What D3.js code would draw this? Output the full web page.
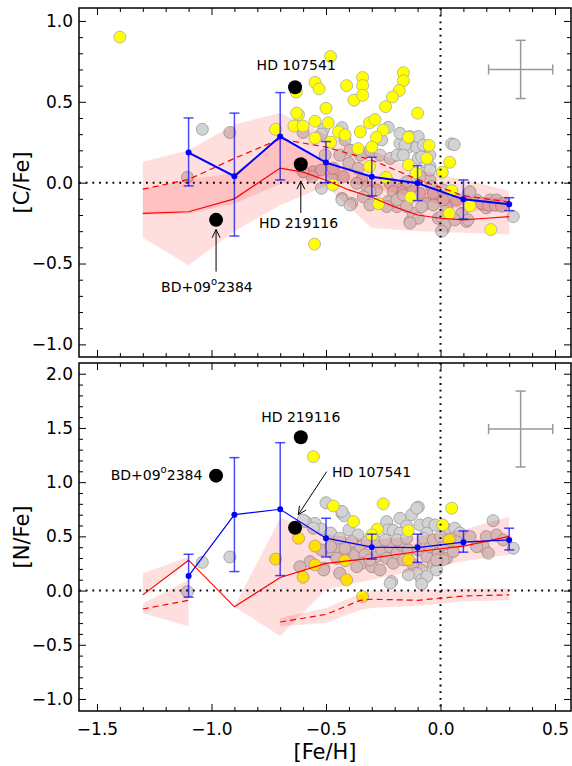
<!DOCTYPE html>
<html>
<head>
<meta charset="utf-8">
<script src="https://cdn.jsdelivr.net/npm/d3@7"></script>
<style>
body { margin: 0; background: #fff; }
svg text { font-family: "DejaVu Sans", sans-serif; fill: #000; }
</style>
</head>
<body>
<svg id="chart" width="572" height="766"></svg>
<script>
// model grid in [Fe/H]
const fehGrid = [-1.3, -1.1, -0.9, -0.7, -0.5, -0.3, -0.1, 0.1, 0.3];

// [C/Fe] models (solid and dashed) with their shaded ranges
const cfeSolidX = [-1.3, -1.1, -0.9, -0.7, -0.6, -0.5, -0.4, -0.3, -0.2, -0.1, 0.0, 0.1, 0.2, 0.3];
const cfeSolid  = [-0.19, -0.18, -0.10, 0.09, 0.065, 0.015, -0.045, -0.09, -0.15, -0.20, -0.22, -0.23, -0.22, -0.21];
const cfeDashed = [-0.04, 0.02, 0.15, 0.27, 0.22, 0.14, 0.02, -0.08, -0.12];
const cfeSolidLo  = [-0.34, -0.51, -0.30, -0.14, -0.02, -0.28, -0.30, -0.31, -0.32];
const cfeSolidHi  = [-0.04, 0.02, 0.06, 0.27, 0.12, 0.04, -0.02, -0.09, -0.09];
const cfeDashedLo = [-0.20, -0.19, -0.13, -0.01, 0.03, -0.03, -0.10, -0.17, -0.18];
const cfeDashedHi = [0.13, 0.20, 0.36, 0.43, 0.30, 0.20, 0.08, 0.02, -0.05];

// [N/Fe] models (null = gap)
const nfeSolid = [-0.04, 0.28, -0.15, 0.12, 0.25, 0.30, 0.36, 0.41, 0.50];
const nfeBandX   = [-1.3, -1.1, -1.0, -0.9, -0.7, -0.5, -0.3, -0.1, 0.1, 0.3];
const nfeSolidLo = [-0.04, 0.27, null, -0.15, -0.42, 0.01, 0.10, 0.19, 0.27, 0.33];
const nfeSolidHi = [0.16, 0.31, null, -0.15, 0.67, 0.52, 0.47, 0.50, 0.56, 0.68];
const nfeDashedX  = [-1.3, -1.1, -0.9, -0.7, -0.5, -0.35, -0.3, -0.1, 0.1, 0.3];
const nfeDashed   = [-0.17, -0.09, null, -0.29, -0.22, -0.09, -0.08, -0.09, -0.05, -0.04];
const nfeDashedLo = [-0.21, -0.33, null, -0.33, -0.30, -0.18, -0.16, -0.14, -0.10, -0.09];
const nfeDashedHi = [-0.12, 0.10, null, -0.25, -0.16, -0.03, 0.00, 0.00, 0.02, 0.02];

// binned means with dispersion
const binFeh  = [-1.1, -0.9, -0.7, -0.5, -0.3, -0.1, 0.1, 0.3];
const cfeMean = [0.186, 0.04, 0.285, 0.124, 0.037, -0.004, -0.103, -0.134];
const cfeHi   = [0.40, 0.43, 0.557, 0.254, 0.157, 0.105, 0.017, -0.093];
const cfeLo   = [-0.02, -0.33, 0.017, 0.0, -0.082, -0.111, -0.225, -0.173];
const nfeMean = [0.135, 0.70, 0.75, 0.483, 0.40, 0.396, 0.446, 0.467];
const nfeHi   = [0.335, 1.226, 1.364, 0.667, 0.52, 0.52, 0.55, 0.575];
const nfeLo   = [-0.06, 0.175, 0.138, 0.31, 0.29, 0.26, 0.354, 0.375];

// labelled stars
const starNames = ["BD+09", "HD 219116", "HD 107541"];
const starFeh = [-0.98, -0.61, -0.635];
const starCfe = [-0.23, 0.114, 0.59];
const starNfe = [1.06, 1.414, 0.58];

// typical error bars
const errFeh = 0.35, errFehSize = 0.14;
const errCfe = 0.70, errCfeSize = 0.18;
const errNfe = 1.49, errNfeSize = 0.35;

// comparison samples [Fe/H, X/Fe]
const cfeYellow = [[-1.40,0.90],[-0.72,0.33],[-0.48,0.78],[-0.548,0.62],[-0.53,0.58],[-0.41,0.60],[-0.34,0.65],[-0.34,0.60],
  [-0.378,0.51],[-0.34,0.54],[-0.162,0.68],[-0.162,0.63],[-0.18,0.57],[-0.21,0.53],[-0.24,0.47],[-0.10,0.43],[-0.50,0.46],
  [-0.62,0.42],[-0.64,0.35],[-0.60,0.35],[-0.548,0.38],[-0.49,0.37],[-0.446,0.315],[-0.417,0.295],[-0.35,0.315],[-0.31,0.37],
  [-0.286,0.39],[-0.25,0.326],[-0.28,0.28],[-0.548,0.275],[-0.36,0.21],[-0.30,0.22],[-0.14,0.28],[-0.05,0.23],[-0.06,0.15],
  [-0.14,0.11],[-0.107,0.06],[0.04,0.126],[0.008,0.064],[-0.48,0.25],[-0.31,0.10],[-0.238,0.033],[-0.47,-0.014],[-0.13,-0.09],
  [-0.27,-0.13],[0.049,-0.05],[0.038,-0.19],[0.129,-0.144],[0.22,-0.29],[-0.55,-0.38],[-0.63,0.56],[-0.628,0.43]];
const cfeGray = [[-1.04,0.33],[-0.92,0.31],[-1.105,0.033],[-0.43,0.34],[-0.51,0.33],[-0.417,0.264],[-0.228,0.342],[-0.257,0.264],
  [-0.177,0.244],[-0.14,0.22],[-0.177,0.305],[-0.104,0.22],[-0.097,0.15],[-0.555,0.068],[-0.52,0.078],[-0.504,0.171],[-0.44,0.17],
  [-0.395,0.20],[-0.35,0.17],[-0.308,0.20],[-0.264,0.17],[-0.22,0.15],[-0.19,0.17],[-0.40,0.12],[-0.36,0.089],[-0.424,0.037],
  [-0.344,0.017],[-0.32,-0.025],[-0.279,-0.045],[-0.22,-0.004],[-0.206,-0.056],[-0.162,-0.025],[-0.177,-0.087],[-0.228,-0.117],
  [-0.19,-0.148],[-0.308,-0.056],[-0.43,-0.097],[-0.388,-0.128],[-0.52,-0.035],[-0.56,0.037],[-0.60,0.068],[-0.475,0.027],
  [-0.468,0.089],[-0.133,-0.24],[-0.119,-0.19],[-0.133,0.285],[0.049,0.24],[0.06,0.235],[0.318,-0.21],[0.012,-0.29],[-0.097,-0.22],
  [-0.133,-0.25],[0.12,-0.07],[0.114,-0.24],[0,-0.097],[0.027,-0.148],[-0.01,-0.22],[0.158,-0.107],[0.187,-0.138],[0.216,-0.107],
  [0.245,-0.107],[0.274,-0.128],[0.2,-0.156],[0.07,-0.107],[0.093,-0.19],[-0.06,0.22],[-0.082,0.16],[-0.046,0.1],[-0.075,0.058],
  [-0.046,0.017],[-0.038,-0.025],[-0.09,-0.066],[-0.06,-0.128],[-0.162,-0.056],[-0.126,-0.025],[-0.19,-0.107],[-0.43,-0.107],
  [-0.395,-0.138],[-0.366,-0.004],[-0.337,-0.087],[-0.235,-0.148],[-0.308,-0.138],[-0.097,0.285],[-0.155,0.233],[-0.075,0.233],
  [-0.162,0.17],[-0.046,0.17],[-0.046,0.078],[-0.09,0.037],[-0.148,0.006],[-0.031,-0.066],[0.012,-0.045],[0.012,-0.107],
  [-0.031,-0.138],[-0.082,-0.148],[-0.148,-0.148],[0.005,-0.21],[0.02,-0.26],[0.005,-0.30],[0.063,-0.23],[0.12,-0.23],[0.129,-0.056],
  [0.18,-0.128],[0.21,-0.14],[0.24,-0.14],[0.267,-0.145],[-0.162,-0.076],[-0.60,0.31],[-0.52,0.30]];
const nfeYellow = [[-0.555,1.235],[-0.468,0.78],[-0.38,0.636],[-0.25,0.80],[0.049,0.76],[-0.276,0.566],[-0.30,0.513],[-0.14,0.553],
  [0.01,0.605],[0.038,0.467],[-0.62,0.483],[-0.548,0.41],[-0.417,0.276],[-0.548,0.237],[-0.60,0.123],[-0.41,0.099],[-0.14,0.283],
  [-0.34,-0.055],[-0.72,0.29]];
const nfeGray = [[-1.04,0.26],[-0.92,0.31],[-1.105,-0.01],[-0.50,0.81],[-0.43,0.71],[-0.42,0.69],[-0.548,0.62],[-0.52,0.566],
  [-0.59,0.636],[-0.48,0.53],[-0.40,0.56],[-0.36,0.513],[-0.44,0.483],[-0.235,0.636],[-0.228,0.56],[-0.206,0.555],[-0.177,0.667],
  [-0.126,0.70],[-0.097,0.77],[-0.148,0.596],[-0.09,0.605],[-0.053,0.62],[-0.024,0.605],[0.027,0.566],[0.063,0.575],[0.085,0.53],
  [-0.06,0.53],[-0.177,0.53],[0.23,0.645],[0.2,0.498],[0.245,0.513],[0.274,0.467],[0.318,0.39],[0.187,0.405],[0.209,0.345],
  [0.158,0.405],[0.129,0.498],[-0.52,0.375],[-0.468,0.345],[-0.44,0.375],[-0.424,0.313],[-0.395,0.375],[-0.373,0.33],[-0.35,0.405],
  [-0.33,0.33],[-0.344,0.252],[-0.30,0.22],[-0.279,0.313],[-0.257,0.375],[-0.235,0.298],[-0.22,0.405],[-0.206,0.252],[-0.19,0.345],
  [-0.17,0.42],[-0.162,0.283],[-0.14,0.375],[-0.119,0.237],[-0.097,0.375],[-0.082,0.19],[-0.06,0.313],[-0.046,0.405],[-0.031,0.237],
  [-0.01,0.345],[0.012,0.42],[0.027,0.298],[0.056,0.36],[0.07,0.45],[-0.017,0.19],[-0.104,0.16],[-0.082,0.099],[-0.14,0.145],
  [-0.06,0.13],[-0.213,0.083],[-0.30,0.498],[-0.32,0.45],[-0.279,0.45],[-0.388,0.45],[-0.417,0.39],[-0.453,0.298],[-0.51,0.206],
  [-0.44,0.16],[-0.57,0.267],[-0.614,0.22],[-0.48,0.405],[-0.242,0.467],[-0.19,0.467],[-0.148,0.483],[-0.075,0.483],[-0.031,0.467],
  [0,0.498],[0.012,0.283],[-0.017,0.283],[-0.366,0.22],[-0.264,0.19],[-0.308,0.283],[-0.22,0.068],[-0.082,0.059],[-0.43,0.73],
  [-0.104,0.76],[-0.60,0.65],[-0.555,0.575],[-0.51,0.19]];

const svg = d3.select("#chart");
const x0 = 79, x1 = 571;
const x = d3.scaleLinear().domain([-1.5786, 0.5699]).range([x0, x1]);
const xMajor = [-1.5, -1.0, -0.5, 0.0, 0.5];
const xMinor = d3.range(-15, 6).filter(i => i % 5 != 0).map(i => i / 10);
const fmt = d3.format(".1f");

const zip = (xs, ys) => xs.map((v, i) => ({x: v, y: ys[i]}));
const zipBand = (xs, lo, hi) => xs.map((v, i) => ({x: v, lo: lo[i], hi: hi[i]}));

function makePanel(top, bottom, domain, yMin, yMax, label) {
    const y = d3.scaleLinear().domain(domain).range([bottom, top]);
    const g = svg.append("g");
    g.y = y; g.top = top; g.bottom = bottom; g.label = label;
    g.yMajor = d3.range(yMin * 2, yMax * 2 + 1).map(i => i / 2);
    g.yMinor = d3.range(yMin * 10, yMax * 10 + 1).filter(i => i % 5 != 0).map(i => i / 10);
    return g;
}

function drawAxes(p, showX) {
    const y = p.y;
    const ax = (gen, tx, ty) => {
        const a = p.append("g").attr("transform", `translate(${tx},${ty})`).call(gen);
        a.select(".domain").remove();
        a.selectAll("line").attr("stroke", "#000");
        a.selectAll("text").attr("font-size", 17).attr("fill", "#000");
        return a;
    };
    ax(d3.axisLeft(y).tickValues(p.yMajor).tickSize(-7).tickPadding(6).tickFormat(fmt), x0, 0);
    ax(d3.axisLeft(y).tickValues(p.yMinor).tickSize(-4).tickFormat(""), x0, 0);
    ax(d3.axisRight(y).tickValues(p.yMajor).tickSize(-7).tickFormat(""), x1, 0);
    ax(d3.axisRight(y).tickValues(p.yMinor).tickSize(-4).tickFormat(""), x1, 0);
    ax(d3.axisTop(x).tickValues(xMajor).tickSize(-7).tickFormat(""), 0, p.top);
    ax(d3.axisTop(x).tickValues(xMinor).tickSize(-4).tickFormat(""), 0, p.top);
    ax(d3.axisBottom(x).tickValues(xMajor).tickSize(-7).tickPadding(12).tickFormat(showX ? fmt : ""), 0, p.bottom);
    ax(d3.axisBottom(x).tickValues(xMinor).tickSize(-4).tickFormat(""), 0, p.bottom);

    p.append("rect").attr("x", x0).attr("y", p.top)
        .attr("width", x1 - x0).attr("height", p.bottom - p.top)
        .attr("fill", "none").attr("stroke", "#000").attr("stroke-width", 1.5);

    p.append("text")
        .attr("transform", `translate(22,${(p.top + p.bottom) / 2}) rotate(-90)`)
        .attr("text-anchor", "middle").attr("dominant-baseline", "central")
        .attr("font-size", 21).text(p.label);
}

function drawPoints(p, pts, fill, stroke) {
    p.append("g").selectAll("circle").data(pts).join("circle")
        .attr("cx", d => x(d[0])).attr("cy", d => p.y(d[1])).attr("r", 6)
        .attr("fill", fill).attr("stroke", stroke).attr("stroke-width", 0.8);
}

function drawBand(p, data) {
    const area = d3.area().defined(d => d.lo != null)
        .x(d => x(d.x)).y0(d => p.y(d.lo)).y1(d => p.y(d.hi));
    p.append("path").datum(data).attr("d", area)
        .attr("fill", "red").attr("fill-opacity", 0.13);
}

function drawLine(p, data, dash) {
    const line = d3.line().defined(d => d.y != null).x(d => x(d.x)).y(d => p.y(d.y));
    p.append("path").datum(data).attr("d", line)
        .attr("fill", "none").attr("stroke", "red").attr("stroke-width", 1.2)
        .attr("stroke-dasharray", dash ? "6,4" : null);
}

function drawZero(p) {
    p.append("line").attr("x1", x0).attr("x2", x1).attr("y1", p.y(0)).attr("y2", p.y(0))
        .attr("stroke", "#000").attr("stroke-width", 2).attr("stroke-dasharray", "1.8,4.9");
    p.append("line").attr("x1", x(0)).attr("x2", x(0)).attr("y1", p.top).attr("y2", p.bottom)
        .attr("stroke", "#000").attr("stroke-width", 2).attr("stroke-dasharray", "1.8,4.9");
}

function drawMeans(p, mean, lo, hi, lw) {
    const g = p.append("g");
    binFeh.forEach((f, i) => {
        const cx = x(f);
        g.append("line").attr("x1", cx).attr("x2", cx).attr("y1", p.y(lo[i])).attr("y2", p.y(hi[i]));
        g.append("line").attr("x1", cx - 5).attr("x2", cx + 5).attr("y1", p.y(lo[i])).attr("y2", p.y(lo[i]));
        g.append("line").attr("x1", cx - 5).attr("x2", cx + 5).attr("y1", p.y(hi[i])).attr("y2", p.y(hi[i]));
    });
    g.attr("stroke", "blue").attr("stroke-width", 1.5).attr("stroke-opacity", 0.7);
    p.append("path").datum(zip(binFeh, mean))
        .attr("d", d3.line().x(d => x(d.x)).y(d => p.y(d.y)))
        .attr("fill", "none").attr("stroke", "blue").attr("stroke-width", lw);
    p.append("g").selectAll("circle").data(zip(binFeh, mean)).join("circle")
        .attr("cx", d => x(d.x)).attr("cy", d => p.y(d.y)).attr("r", 3).attr("fill", "blue");
}

function drawStars(p, vals) {
    p.append("g").selectAll("circle").data(starFeh).join("circle")
        .attr("cx", d => x(d)).attr("cy", (d, i) => p.y(vals[i])).attr("r", 7).attr("fill", "#000");
}

function drawErrCross(p, yc, ys) {
    const g = p.append("g").attr("stroke", "#999").attr("stroke-width", 1.5);
    const cx = x(errFeh), cy = p.y(yc);
    const xl = x(errFeh - errFehSize), xr = x(errFeh + errFehSize);
    const yt = p.y(yc + ys), yb = p.y(yc - ys);
    g.append("line").attr("x1", xl).attr("x2", xr).attr("y1", cy).attr("y2", cy);
    g.append("line").attr("x1", cx).attr("x2", cx).attr("y1", yt).attr("y2", yb);
    [xl, xr].forEach(v => g.append("line").attr("x1", v).attr("x2", v).attr("y1", cy - 5).attr("y2", cy + 5));
    [yt, yb].forEach(v => g.append("line").attr("x1", cx - 5).attr("x2", cx + 5).attr("y1", v).attr("y2", v));
}

function label(p, name, fx, fy, anchor) {
    const t = p.append("text").attr("x", x(fx)).attr("y", p.y(fy))
        .attr("text-anchor", anchor).attr("dominant-baseline", "central").attr("font-size", 14);
    if (name == "BD+09") {
        t.append("tspan").text("BD+09");
        t.append("tspan").attr("font-size", 10).attr("dy", -6).text("o");
        t.append("tspan").attr("dy", 6).text("2384");
    } else {
        t.text(name);
    }
}

function arrow(p, fx1, fy1, fx2, fy2) {
    const ax1 = x(fx1), ay1 = p.y(fy1), ax2 = x(fx2), ay2 = p.y(fy2);
    const ang = Math.atan2(ay1 - ay2, ax1 - ax2);
    const g = p.append("g").attr("stroke", "#000").attr("stroke-width", 1).attr("fill", "none");
    g.append("line").attr("x1", ax1).attr("y1", ay1).attr("x2", ax2).attr("y2", ay2);
    const hl = 9, ha = 0.45;
    g.append("path").attr("d",
        `M${ax2 + hl * Math.cos(ang - ha)},${ay2 + hl * Math.sin(ang - ha)}L${ax2},${ay2}L${ax2 + hl * Math.cos(ang + ha)},${ay2 + hl * Math.sin(ang + ha)}`);
}

// ---- top panel: [C/Fe]
const pc = makePanel(8, 357, [-1.078, 1.080], -1, 1, "[C/Fe]");
drawPoints(pc, cfeGray, "#d3d3d3", "#999");
drawBand(pc, zipBand(fehGrid, cfeSolidLo, cfeSolidHi));
drawBand(pc, zipBand(fehGrid, cfeDashedLo, cfeDashedHi));
drawPoints(pc, cfeYellow, "#ffff00", "#aaa");
drawZero(pc);
drawLine(pc, zip(cfeSolidX, cfeSolid), false);
drawLine(pc, zip(fehGrid, cfeDashed), true);
drawMeans(pc, cfeMean, cfeLo, cfeHi, 2);
drawStars(pc, starCfe);
drawErrCross(pc, errCfe, errCfeSize);
label(pc, "HD 107541", -0.63, 0.73, "middle");
label(pc, "HD 219116", -0.62, -0.25, "middle");
label(pc, "BD+09", -1.02, -0.645, "middle");
arrow(pc, -0.61, -0.187, -0.61, 0.01);
arrow(pc, -0.98, -0.55, -0.98, -0.29);
drawAxes(pc, false);

// ---- bottom panel: [N/Fe]
const pn = makePanel(363, 711, [-1.111, 2.099], -1, 2, "[N/Fe]");
drawPoints(pn, nfeGray, "#d3d3d3", "#999");
drawPoints(pn, nfeYellow, "#ffff00", "#aaa");
drawBand(pn, zipBand(nfeBandX, nfeSolidLo, nfeSolidHi));
drawBand(pn, zipBand(nfeDashedX, nfeDashedLo, nfeDashedHi));
drawZero(pn);
drawLine(pn, zip(fehGrid, nfeSolid), false);
drawLine(pn, zip(nfeDashedX, nfeDashed), true);
drawMeans(pn, nfeMean, nfeLo, nfeHi, 1.2);
drawStars(pn, starNfe);
drawErrCross(pn, errNfe, errNfeSize);
label(pn, "HD 219116", -0.61, 1.60, "middle");
label(pn, "BD+09", -1.24, 1.065, "middle");
label(pn, "HD 107541", -0.474, 1.094, "start");
arrow(pn, -0.497, 1.097, -0.621, 0.70);
drawAxes(pn, true);

svg.append("text").attr("x", (x0 + x1) / 2).attr("y", 752)
    .attr("text-anchor", "middle").attr("dominant-baseline", "central")
    .attr("font-size", 21).text("[Fe/H]");
</script>
</body>
</html>
